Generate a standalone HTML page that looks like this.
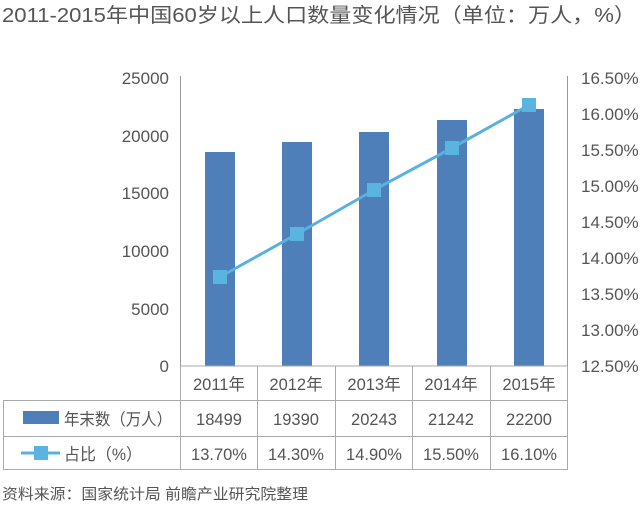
<!DOCTYPE html>
<html><head><meta charset="utf-8"><style>
body{margin:0;background:#fff;}
svg text{font-family:"Liberation Sans","Noto Sans CJK SC",sans-serif;fill:#555;}
</style></head><body>
<svg width="640" height="504" xmlns="http://www.w3.org/2000/svg">
<text x="2" y="22" font-size="20" textLength="634" lengthAdjust="spacingAndGlyphs">2011-2015年中国60岁以上人口数量变化情况（单位：万人，%）</text>
<g font-size="17" text-anchor="end">
<text x="169" y="84">25000</text><text x="169" y="142">20000</text><text x="169" y="199">15000</text>
<text x="169" y="257">10000</text><text x="169" y="315">5000</text><text x="169" y="372">0</text>
</g>
<g font-size="17" text-anchor="start">
<text x="581" y="84">16.50%</text><text x="581" y="120">16.00%</text><text x="581" y="156">15.50%</text>
<text x="581" y="192">15.00%</text><text x="581" y="228">14.50%</text><text x="581" y="264">14.00%</text>
<text x="581" y="300">13.50%</text><text x="581" y="336">13.00%</text><text x="581" y="372">12.50%</text>
</g>
<line x1="180.5" y1="76" x2="180.5" y2="366" stroke="#999"/>
<line x1="567.5" y1="76" x2="567.5" y2="366" stroke="#999"/>
<g fill="#4f7fb8">
<rect x="205" y="152" width="30" height="214"/>
<rect x="282" y="142" width="30" height="224"/>
<rect x="359" y="132" width="30" height="234"/>
<rect x="437" y="120" width="30" height="246"/>
<rect x="514" y="109" width="30" height="257"/>
</g>
<polyline points="220,277 297,234 374,190 452,148 529,105" fill="none" stroke="#5ab0e0" stroke-width="3"/>
<g fill="#5ab4e0">
<rect x="213" y="270" width="14" height="14"/><rect x="290" y="227" width="14" height="14"/>
<rect x="367" y="183" width="14" height="14"/><rect x="445" y="141" width="14" height="14"/>
<rect x="522" y="98" width="14" height="14"/>
</g>
<g stroke="#aaa" fill="none">
<line x1="180.5" y1="366" x2="567" y2="366"/>
<line x1="3.5" y1="400.5" x2="567" y2="400.5"/>
<line x1="3.5" y1="436.5" x2="567" y2="436.5"/>
<line x1="3.5" y1="469.5" x2="567" y2="469.5"/>
<line x1="3.5" y1="400" x2="3.5" y2="470"/>
<line x1="180.5" y1="366" x2="180.5" y2="470"/>
<line x1="257.5" y1="366" x2="257.5" y2="470"/>
<line x1="335.5" y1="366" x2="335.5" y2="470"/>
<line x1="412.5" y1="366" x2="412.5" y2="470"/>
<line x1="490.5" y1="366" x2="490.5" y2="470"/>
<line x1="567.5" y1="366" x2="567.5" y2="470"/>
</g>
<g font-size="16.5" text-anchor="middle">
<text x="219" y="390">2011年</text><text x="296" y="390">2012年</text><text x="374" y="390">2013年</text><text x="451" y="390">2014年</text><text x="529" y="390">2015年</text>
<text x="219" y="425">18499</text><text x="296" y="425">19390</text><text x="374" y="425">20243</text><text x="451" y="425">21242</text><text x="529" y="425">22200</text>
<text x="219" y="460">13.70%</text><text x="296" y="460">14.30%</text><text x="374" y="460">14.90%</text><text x="451" y="460">15.50%</text><text x="529" y="460">16.10%</text>
</g>
<rect x="23" y="411" width="36" height="13" fill="#4f7fb8"/>
<text x="64" y="425" font-size="16.5" textLength="108" lengthAdjust="spacingAndGlyphs">年末数（万人）</text>
<line x1="21" y1="453" x2="60" y2="453" stroke="#5ab0e0" stroke-width="3"/>
<rect x="34" y="446" width="14" height="14" fill="#5ab4e0"/>
<text x="64" y="460" font-size="16.5" textLength="78" lengthAdjust="spacingAndGlyphs">占比（%）</text>
<text x="2" y="499" font-size="15" textLength="306" lengthAdjust="spacingAndGlyphs">资料来源：国家统计局 前瞻产业研究院整理</text>
</svg>
</body></html>
